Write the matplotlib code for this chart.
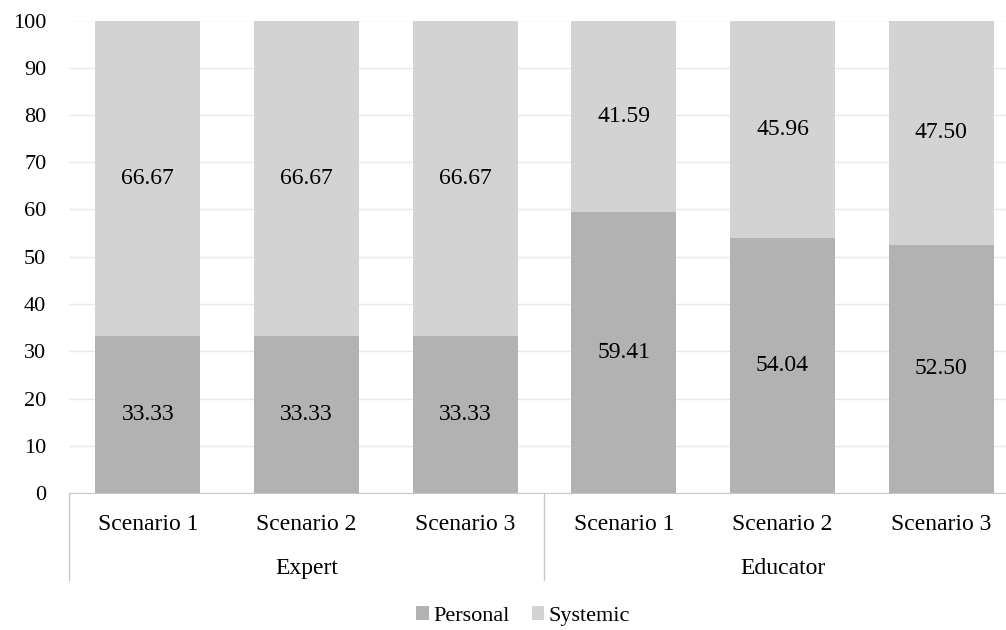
import matplotlib.pyplot as plt
import numpy as np

# data
groups = ["Expert", "Educator"]
scenarios = ["Scenario 1", "Scenario 2", "Scenario 3"]
personal = [33.33, 33.33, 33.33, 59.41, 54.04, 52.50]
systemic = [66.67, 66.67, 66.67, 41.59, 45.96, 47.50]

plt.rcParams['font.family'] = ['Liberation Serif', 'DejaVu Serif']

fig = plt.figure(figsize=(10.06, 6.3), dpi=100)
# the plot area runs a bit past the right edge, as in the reference
ax = fig.add_axes([68.5 / 1006, 137 / 630, 952 / 1006, 472.5 / 630])

x = np.arange(len(personal))
w = 0.66
b1 = ax.bar(x, personal, w, color='#b2b2b2', label='Personal', zorder=2)
b2 = ax.bar(x, systemic, w, bottom=personal, color='#d3d3d3', label='Systemic', zorder=2)
ax.bar_label(b1, fmt='%.2f', label_type='center', fontsize=17)
ax.bar_label(b2, fmt='%.2f', label_type='center', fontsize=17)

ax.set_ylim(0, 100)
ax.set_xlim(-0.5, 5.5)
ax.set_yticks(range(0, 101, 10))
ax.tick_params(axis='y', length=0, labelsize=16, pad=16)
ax.grid(axis='y', color='#e9e9e9', linewidth=1, zorder=0)
for s in ['top', 'right', 'left']:
    ax.spines[s].set_visible(False)
ax.spines['bottom'].set_color('#c8c8c8')

# category axis with two levels
ax.set_xticks([])
for i in x:
    ax.text(i, -6.7, scenarios[i % 3], ha='center', va='center', fontsize=17, clip_on=False)
for g, name in enumerate(groups):
    ax.text(g * 3 + 1, -16.0, name, ha='center', va='center', fontsize=17, clip_on=False)
for xv in [-0.5, 2.5]:
    ax.plot([xv, xv], [0, -18.4], color='#c8c8c8', linewidth=1, clip_on=False)

leg = fig.legend(handles=[b1, b2], loc='center', bbox_to_anchor=(523 / 1006, 1 - 616 / 630),
                 ncol=2, frameon=False, fontsize=16, handlelength=0.55, handleheight=0.55,
                 handletextpad=0.2, columnspacing=1.0, borderpad=0)

fig.savefig('out.png', dpi=100)
